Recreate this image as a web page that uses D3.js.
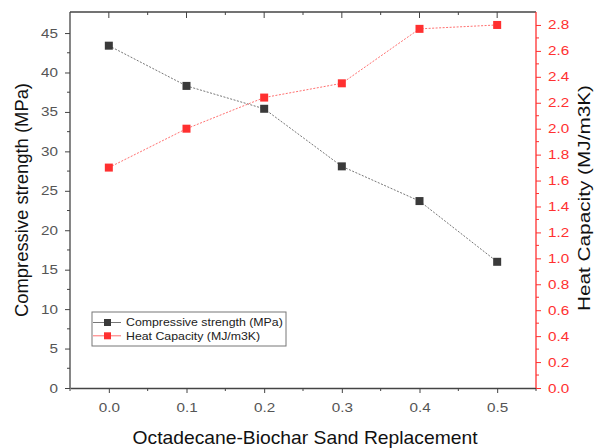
<!DOCTYPE html>
<html>
<head>
<meta charset="utf-8">
<script src="https://cdn.jsdelivr.net/npm/d3@7"></script>
<style>
  html, body { margin: 0; padding: 0; background: #fff; }
  svg { display: block; font-family: "Liberation Sans", Arial, sans-serif; }
</style>
</head>
<body>
<svg id="chart" width="594" height="448"></svg>
<script>
// Replacement levels (x) and the two measured series
const replacement = [0.0, 0.1, 0.2, 0.3, 0.4, 0.5];
const compressive = [43.4, 38.3, 35.4, 28.1, 23.7, 16.0];
const heatCapacity = [1.70, 2.00, 2.24, 2.35, 2.77, 2.80];

const xTicks = [0.0, 0.1, 0.2, 0.3, 0.4, 0.5];
const leftTicks = [0, 5, 10, 15, 20, 25, 30, 35, 40, 45];
const rightTicks = [0.0, 0.2, 0.4, 0.6, 0.8, 1.0, 1.2, 1.4, 1.6, 1.8, 2.0, 2.2, 2.4, 2.6, 2.8];

const svg = d3.select("#chart");
const m = { left: 70, right: 536, top: 12, bottom: 388 };

const x = d3.scaleLinear().domain([-0.05, 0.55]).range([m.left, m.right]);
const yL = d3.scaleLinear().domain([0, 47.67]).range([m.bottom, m.top]);
const yR = d3.scaleLinear().domain([0, 2.9]).range([m.bottom, m.top]);

const black = "#3a3a3a", red = "#ff3030", tickGray = "#555";

// Widen glyphs horizontally along the text direction
function widen(sel, factor) {
  sel.each(function () {
    const w = this.getComputedTextLength();
    d3.select(this).attr("textLength", w * factor).attr("lengthAdjust", "spacingAndGlyphs");
  });
}

// Frame: top line
svg.append("line").attr("x1", m.left).attr("x2", m.right).attr("y1", m.top).attr("y2", m.top)
  .attr("stroke", "#444").attr("stroke-width", 1.3);

// Bottom axis
const gx = svg.append("g").attr("transform", `translate(0,${m.bottom})`)
  .call(d3.axisBottom(x).tickValues(xTicks).tickFormat(d3.format(".1f")).tickSize(5).tickSizeOuter(0).tickPadding(10));
gx.append("g").selectAll("line").data(d3.range(-0.05, 0.56, 0.1)).join("line")
  .attr("x1", d => x(d)).attr("x2", d => x(d)).attr("y1", 0).attr("y2", 3).attr("stroke", "#444");
// Top ticks pointing inward
svg.append("g").selectAll("line").data(xTicks).join("line")
  .attr("x1", d => x(d)).attr("x2", d => x(d)).attr("y1", m.top).attr("y2", m.top + 6).attr("stroke", "#444");
svg.append("g").selectAll("line").data(d3.range(0.05, 0.46, 0.1)).join("line")
  .attr("x1", d => x(d)).attr("x2", d => x(d)).attr("y1", m.top).attr("y2", m.top + 3).attr("stroke", "#444");

// Left axis
const gl = svg.append("g").attr("transform", `translate(${m.left},0)`)
  .call(d3.axisLeft(yL).tickValues(leftTicks).tickSize(5).tickSizeOuter(0).tickPadding(7));
gl.append("g").selectAll("line").data(d3.range(2.5, 47, 5)).join("line")
  .attr("y1", d => yL(d)).attr("y2", d => yL(d)).attr("x1", 0).attr("x2", -3).attr("stroke", "#444");
gl.select(".domain").attr("d", `M0,${m.bottom}V${m.top}`);

// Right axis
const gr = svg.append("g").attr("transform", `translate(${m.right},0)`)
  .call(d3.axisRight(yR).tickValues(rightTicks).tickFormat(d3.format(".1f")).tickSize(5).tickSizeOuter(0).tickPadding(7));
gr.append("g").selectAll("line").data(d3.range(0.1, 2.85, 0.2)).join("line")
  .attr("y1", d => yR(d)).attr("y2", d => yR(d)).attr("x1", 0).attr("x2", 3).attr("stroke", red);
gr.select(".domain").attr("d", `M0,${m.bottom}V${m.top}`);

[gx, gl].forEach(g => {
  g.select(".domain").attr("stroke", "#444").attr("stroke-width", 1.3);
  g.selectAll(".tick line").attr("stroke", "#444");
  g.selectAll(".tick text").attr("fill", tickGray).style("font-size", "12.5px");
});
gr.select(".domain").attr("stroke", red).attr("stroke-width", 1.3);
gr.selectAll(".tick line").attr("stroke", red);
gr.selectAll(".tick text").attr("fill", red).style("font-size", "12.5px");
[gx, gl, gr].forEach(g => widen(g.selectAll(".tick text"), 1.22));

// Series lines and square markers
function series(vals, yScale, color, lineColor) {
  const pts = replacement.map((r, i) => [x(r), yScale(vals[i])]);
  svg.append("path").attr("d", d3.line()(pts)).attr("fill", "none")
    .attr("stroke", lineColor).attr("stroke-width", 1).attr("stroke-dasharray", "2,1.5");
  svg.append("g").selectAll("rect").data(pts).join("rect")
    .attr("x", d => d[0] - 4).attr("y", d => d[1] - 4).attr("width", 8).attr("height", 8)
    .attr("fill", color);
}
series(compressive, yL, black, "#777");
series(heatCapacity, yR, red, "#ff7070");

// Axis titles
svg.append("text").attr("transform", "translate(28,200) rotate(-90)")
  .attr("text-anchor", "middle").style("font-size", "18.5px").attr("fill", "#111")
  .attr("textLength", 234).attr("lengthAdjust", "spacingAndGlyphs")
  .text("Compressive strength (MPa)");
svg.append("text").attr("transform", "translate(590,198) rotate(-90)")
  .attr("text-anchor", "middle").style("font-size", "16.5px").attr("fill", "#111")
  .attr("textLength", 226).attr("lengthAdjust", "spacingAndGlyphs")
  .text("Heat Capacity (MJ/m3K)");
svg.append("text").attr("x", 305).attr("y", 444)
  .attr("text-anchor", "middle").style("font-size", "18.5px").attr("fill", "#111")
  .attr("textLength", 345).attr("lengthAdjust", "spacingAndGlyphs")
  .text("Octadecane-Biochar Sand Replacement");

// Legend
const lg = svg.append("g");
lg.append("rect").attr("x", 92).attr("y", 312).attr("width", 194).attr("height", 34)
  .attr("fill", "#fff").attr("stroke", "#777").attr("stroke-width", 1);
const legendItems = [
  { label: "Compressive strength (MPa)", color: black, line: "#777" },
  { label: "Heat Capacity (MJ/m3K)", color: red, line: "#ff7070" }
];
legendItems.forEach((d, i) => {
  const cy = 322.5 + i * 13.3;
  lg.append("line").attr("x1", 93).attr("x2", 121).attr("y1", cy).attr("y2", cy).attr("stroke", d.line);
  lg.append("rect").attr("x", 104).attr("y", cy - 3.5).attr("width", 7).attr("height", 7).attr("fill", d.color);
  lg.append("text").attr("x", 126).attr("y", cy).attr("dy", "0.35em").style("font-size", "11px")
    .attr("fill", "#222").text(d.label);
});
widen(lg.selectAll("text"), 1.12);
</script>
</body>
</html>
